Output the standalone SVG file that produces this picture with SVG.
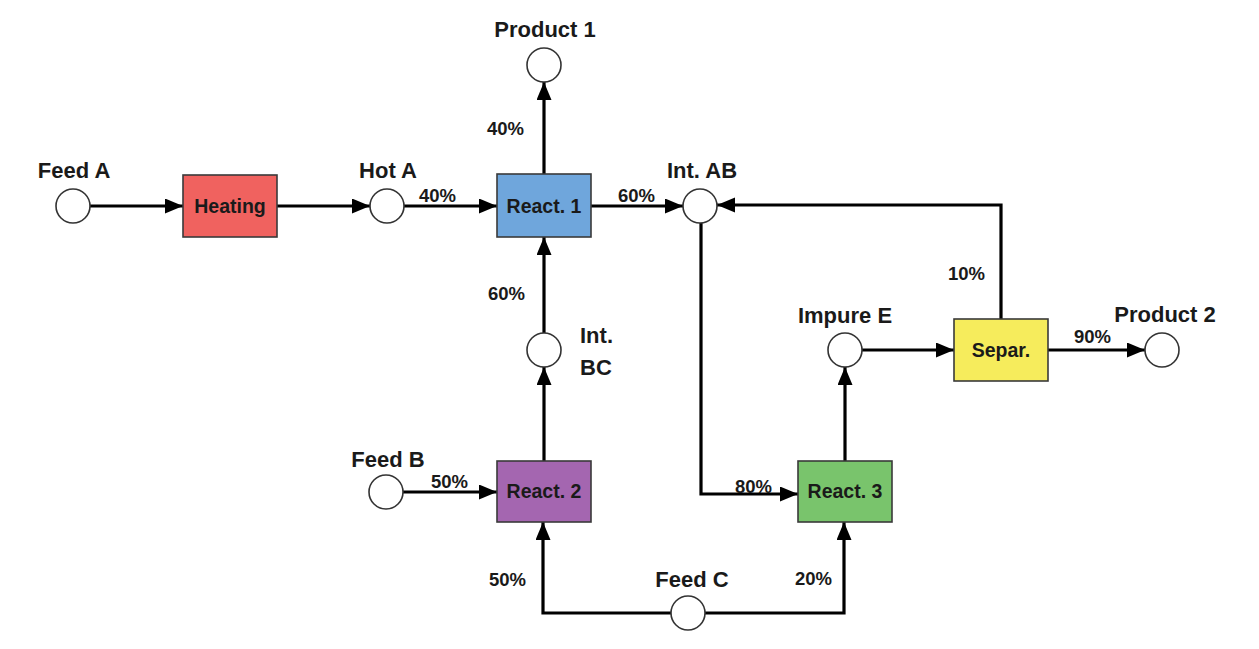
<svg xmlns="http://www.w3.org/2000/svg" width="1259" height="649" viewBox="0 0 1259 649">
<style>
.bg{fill:#ffffff}
.st{fill:#ffffff;stroke:#333333;stroke-width:1.6}
.box{stroke:#3a3a3a;stroke-width:1.6}
.lbl{font-family:"Liberation Sans",Arial,sans-serif;font-weight:bold;font-size:22px;fill:#1a1a1a}
.pct{font-family:"Liberation Sans",Arial,sans-serif;font-weight:bold;font-size:18.5px;fill:#1a1a1a}
.bt{font-family:"Liberation Sans",Arial,sans-serif;font-weight:bold;font-size:19.5px;fill:#1a1a1a;text-anchor:middle}
.c{fill:none;stroke:#000000;stroke-width:3.2;marker-end:url(#ah)}
</style>
<defs>
<marker id="ah" markerUnits="userSpaceOnUse" markerWidth="20" markerHeight="16" refX="18" refY="7.5" orient="auto">
<path d="M0,0 L18,7.5 L0,15 z" fill="#000000"/>
</marker>
</defs>
<rect class="bg" x="0" y="0" width="1259" height="649"/>
<g id="connectors">
<path class="c" d="M90,206 L183,206"/>
<path class="c" d="M277,206 L370,206"/>
<path class="c" d="M404,206 L497,206"/>
<path class="c" d="M544,174 L544,82"/>
<path class="c" d="M591,206 L683,206"/>
<path class="c" d="M544,333 L544,237"/>
<path class="c" d="M544,461 L544,367"/>
<path class="c" d="M403,492 L497,492"/>
<path class="c" d="M671,613 L543,613 L543,522"/>
<path class="c" d="M705,613 L844,613 L844,522"/>
<path class="c" d="M701,223 L701,494 L798,494"/>
<path class="c" d="M845,461 L845,367"/>
<path class="c" d="M862,350 L954,350"/>
<path class="c" d="M1001,319 L1001,205 L717,205"/>
<path class="c" d="M1048,350 L1145,350"/>
<text class="pct" x="419" y="202">40%</text>
<text class="pct" x="487" y="135">40%</text>
<text class="pct" x="618" y="202">60%</text>
<text class="pct" x="488" y="300">60%</text>
<text class="pct" x="431" y="488">50%</text>
<text class="pct" x="489" y="586">50%</text>
<text class="pct" x="735" y="493">80%</text>
<text class="pct" x="795" y="585">20%</text>
<text class="pct" x="948" y="280">10%</text>
<text class="pct" x="1074" y="343">90%</text>
</g>
<g id="feedA">
<circle class="st" cx="73" cy="206" r="17"/>
<text class="lbl" x="74" y="178" text-anchor="middle">Feed A</text>
</g>
<g id="heating">
<rect class="box" x="183" y="175" width="94" height="62" fill="#f0625f"/>
<text class="bt" x="230" y="213">Heating</text>
</g>
<g id="hotA">
<circle class="st" cx="387" cy="206" r="17"/>
<text class="lbl" x="388" y="178" text-anchor="middle">Hot A</text>
</g>
<g id="react1">
<rect class="box" x="497" y="174" width="94" height="63" fill="#6fa6dc"/>
<text class="bt" x="544" y="213">React. 1</text>
</g>
<g id="product1">
<circle class="st" cx="544" cy="65" r="17"/>
<text class="lbl" x="545" y="37" text-anchor="middle">Product 1</text>
</g>
<g id="intAB">
<circle class="st" cx="700" cy="206" r="17"/>
<text class="lbl" x="702" y="178" text-anchor="middle">Int. AB</text>
</g>
<g id="intBC">
<circle class="st" cx="544" cy="350" r="17"/>
<text class="lbl" x="580" y="343">Int.</text>
<text class="lbl" x="580" y="375">BC</text>
</g>
<g id="feedB">
<circle class="st" cx="386" cy="492" r="17"/>
<text class="lbl" x="388" y="467" text-anchor="middle">Feed B</text>
</g>
<g id="react2">
<rect class="box" x="497" y="461" width="94" height="61" fill="#a466b0"/>
<text class="bt" x="544" y="498">React. 2</text>
</g>
<g id="feedC">
<circle class="st" cx="688" cy="613" r="17"/>
<text class="lbl" x="692" y="587" text-anchor="middle">Feed C</text>
</g>
<g id="react3">
<rect class="box" x="798" y="461" width="94" height="61" fill="#79c46c"/>
<text class="bt" x="845" y="498">React. 3</text>
</g>
<g id="impureE">
<circle class="st" cx="845" cy="350" r="17"/>
<text class="lbl" x="845" y="323" text-anchor="middle">Impure E</text>
</g>
<g id="separ">
<rect class="box" x="954" y="319" width="94" height="62" fill="#f6ec5c"/>
<text class="bt" x="1001" y="357">Separ.</text>
</g>
<g id="product2">
<circle class="st" cx="1162" cy="350" r="17"/>
<text class="lbl" x="1165" y="322" text-anchor="middle">Product 2</text>
</g>
</svg>
